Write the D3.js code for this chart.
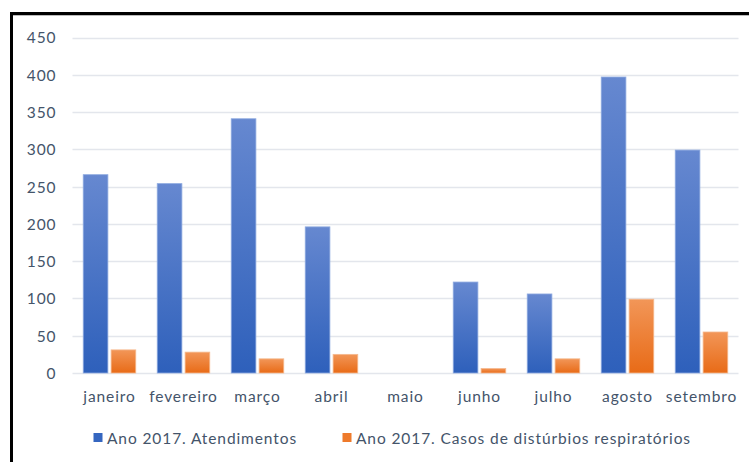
<!DOCTYPE html>
<html>
<head>
<meta charset="utf-8">
<script src="https://cdn.jsdelivr.net/npm/d3@7"></script>
<style>
  html, body { margin: 0; padding: 0; background: #fff; }
  text { font-family: Lato, "Open Sans", sans-serif; fill: #44546a; letter-spacing: 0.9px; }
</style>
</head>
<body>
<script>
// Atendimentos x casos respiratorios, 2017
var months = ['janeiro', 'fevereiro', 'março', 'abril', 'maio', 'junho', 'julho', 'agosto', 'setembro'];
var atendimentos = [266, 254, 341, 196, 0, 122, 106, 397, 299];
var respiratorios = [31, 28, 19, 25, 0, 6, 19, 99, 55];
var seriesNames = ['Ano 2017. Atendimentos', 'Ano 2017. Casos de distúrbios respiratórios'];
var yTicks = [0, 50, 100, 150, 200, 250, 300, 350, 400, 450];

(function() {
  var canvasWidth = 749,
      canvasHeight = 462,
      left = 72.5,
      right = 738.5,
      top = 37.5,
      bottom = 373;

  var svg = d3.select('body').append('svg')
      .attr('width', canvasWidth)
      .attr('height', canvasHeight);

  var defs = svg.append('defs');
  function gradient(id, c1, c2) {
    var g = defs.append('linearGradient')
        .attr('id', id)
        .attr('x1', 0).attr('y1', 0)
        .attr('x2', 0).attr('y2', 1);
    g.append('stop').attr('offset', '0%').attr('stop-color', c1);
    g.append('stop').attr('offset', '100%').attr('stop-color', c2);
  }
  gradient('gBlue', '#6688d0', '#2e60bb');
  gradient('gOrange', '#f29658', '#e86b17');

  // frame (only top and left visible)
  svg.append('line')
      .attr('x1', 11).attr('y1', 15.5).attr('x2', canvasWidth).attr('y2', 15.5)
      .attr('stroke', '#bbb').attr('stroke-width', 1);
  svg.append('path')
      .attr('d', 'M11.5,' + canvasHeight + 'V13.5H' + canvasWidth)
      .attr('fill', 'none')
      .attr('stroke', '#000')
      .attr('stroke-width', 3);

  var y = d3.scaleLinear().domain([0, 450]).range([bottom, top]);

  var x0 = d3.scaleBand()
      .domain(months)
      .range([left, right])
      .paddingInner(0.29)
      .paddingOuter(0.145);

  var x1 = d3.scaleBand()
      .domain([0, 1])
      .range([0, x0.bandwidth()])
      .paddingInner(0.115);

  // gridlines
  svg.append('g').selectAll('line')
      .data(yTicks)
      .enter().append('line')
      .attr('x1', left).attr('x2', right)
      .attr('y1', function(d) { return Math.round(y(d)) + 0.5; })
      .attr('y2', function(d) { return Math.round(y(d)) + 0.5; })
      .attr('stroke', '#e3e6ec')
      .attr('stroke-width', 1.3);

  // y labels
  var yAxis = svg.append('g')
      .attr('transform', 'translate(' + (left - 16) + ',0)')
      .call(d3.axisLeft(y).tickValues(yTicks).tickSize(0).tickPadding(0));
  yAxis.select('.domain').remove();
  yAxis.selectAll('text')
      .attr('font-size', 15.5)
      .attr('dy', '0.35em')
      .style('font-family', 'Lato, sans-serif')
      .attr('fill', '#44546a');

  // x labels
  var xAxis = svg.append('g')
      .attr('transform', 'translate(0,' + bottom + ')')
      .call(d3.axisBottom(x0).tickSize(0).tickPadding(0));
  xAxis.select('.domain').remove();
  xAxis.selectAll('text')
      .attr('y', 29)
      .attr('dy', 0)
      .attr('font-size', 15.5)
      .style('font-family', 'Lato, sans-serif')
      .attr('fill', '#44546a');

  var rows = months.map(function(m, i) {
    return { month: m, values: [atendimentos[i], respiratorios[i]] };
  });
  var fills = ['url(#gBlue)', 'url(#gOrange)'];
  var edges = ['#8eaae0', '#f5b98e'];

  var groups = svg.append('g').selectAll('g')
      .data(rows)
      .enter().append('g')
      .attr('transform', function(d) { return 'translate(' + x0(d.month) + ',0)'; });

  groups.selectAll('rect')
      .data(function(d) { return d.values.map(function(v, k) { return { k: k, v: v }; }); })
      .enter().filter(function(d) { return d.v > 0; })
      .append('rect')
      .attr('x', function(d) { return x1(d.k); })
      .attr('y', function(d) { return y(d.v); })
      .attr('width', x1.bandwidth())
      .attr('height', function(d) { return y(0) - y(d.v); })
      .attr('fill', function(d) { return fills[d.k]; })
      .attr('stroke', function(d) { return edges[d.k]; })
      .attr('stroke-width', 0.8);

  // legend
  var legendX = [93.5, 342.5],
      swatch = ['#3566c0', '#ee7a2b'];
  var legend = svg.append('g').selectAll('g')
      .data(seriesNames)
      .enter().append('g')
      .attr('transform', function(d, i) { return 'translate(' + legendX[i] + ',433)'; });
  legend.append('rect')
      .attr('width', 9).attr('height', 9)
      .attr('fill', function(d, i) { return swatch[i]; });
  legend.append('text')
      .attr('x', 13.5)
      .attr('y', 11)
      .attr('font-size', 15.5)
      .text(function(d) { return d; });
})();
</script>
</body>
</html>
